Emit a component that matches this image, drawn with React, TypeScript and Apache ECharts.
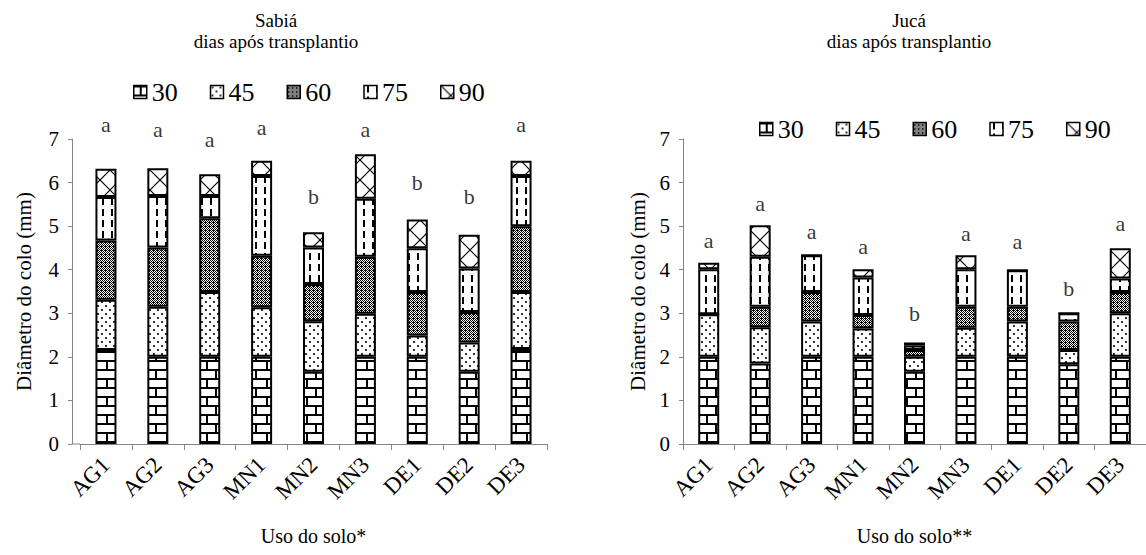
import React, { useEffect, useRef } from 'react';
import * as echarts from 'echarts';

const categories = ['AG1', 'AG2', 'AG3', 'MN1', 'MN2', 'MN3', 'DE1', 'DE2', 'DE3'];
const days = ['30', '45', '60', '75', '90'];

// Sabiá
const sabia30 = [2.16, 2.0, 2.0, 2.0, 1.66, 2.0, 2.0, 1.66, 2.18];
const sabia45 = [1.15, 1.15, 1.49, 1.14, 1.16, 0.99, 0.49, 0.67, 1.31];
const sabia60 = [1.36, 1.36, 1.69, 1.18, 0.85, 1.31, 1.0, 0.7, 1.51];
const sabia75 = [1.0, 1.18, 0.51, 1.83, 0.84, 1.33, 1.0, 1.0, 1.15];
const sabia90 = [0.65, 0.64, 0.5, 0.35, 0.35, 1.02, 0.66, 0.77, 0.35];
const sabiaLetters = ['a', 'a', 'a', 'a', 'b', 'a', 'b', 'b', 'a'];
const sabiaLetterY = [7.33, 7.22, 7.0, 7.27, 5.67, 7.22, 6.01, 5.67, 7.34];

// Jucá
const juca30 = [2.0, 1.85, 2.0, 2.0, 1.66, 2.0, 2.0, 1.83, 2.0];
const juca45 = [0.98, 0.83, 0.81, 0.65, 0.34, 0.67, 0.81, 0.33, 1.0];
const juca60 = [0.0, 0.47, 0.68, 0.31, 0.16, 0.48, 0.34, 0.65, 0.49];
const juca75 = [1.03, 1.15, 0.84, 0.86, 0.1, 0.86, 0.84, 0.19, 0.31];
const juca90 = [0.15, 0.72, 0.0, 0.19, 0.07, 0.32, 0.0, 0.0, 0.69];
const jucaLetters = ['a', 'a', 'a', 'a', 'b', 'a', 'a', 'b', 'a'];
const jucaLetterY = [4.68, 5.52, 4.87, 4.53, 3.0, 4.83, 4.64, 3.57, 5.05];

const FONT = 'Liberation Serif';

function makePattern(kind: string) {
  const c = document.createElement('canvas');
  let w = 8;
  let h = 8;
  if (kind === '30') { w = 20; h = 18; }
  if (kind === '45') { w = 8; h = 8; }
  if (kind === '60') { w = 4; h = 4; }
  if (kind === '75') { w = 9; h = 11; }
  if (kind === '90') { w = 20; h = 20; }
  c.width = w;
  c.height = h;
  const ctx = c.getContext('2d')!;
  ctx.fillStyle = '#fff';
  ctx.fillRect(0, 0, w, h);
  ctx.fillStyle = '#000';
  ctx.strokeStyle = '#000';
  if (kind === '30') {
    ctx.fillRect(0, 0, w, 2);
    ctx.fillRect(0, 9, w, 2);
    ctx.fillRect(6, 0, 2, 9);
    ctx.fillRect(15, 9, 2, 9);
  } else if (kind === '45') {
    ctx.fillStyle = '#333';
    ctx.fillRect(1, 1, 2, 2);
    ctx.fillRect(5, 5, 2, 2);
  } else if (kind === '60') {
    for (let y = 0; y < h; y++) {
      for (let x = 0; x < w; x++) {
        if ((x + y) % 2 === 0) ctx.fillRect(x, y, 1, 1);
      }
    }
    ctx.fillRect(1, 2, 1, 1);
  } else if (kind === '75') {
    ctx.fillRect(3, 0, 2, 7);
  } else if (kind === '90') {
    ctx.lineWidth = 1.2;
    ctx.beginPath();
    ctx.moveTo(0, 0);
    ctx.lineTo(w, h);
    ctx.moveTo(w, 0);
    ctx.lineTo(0, h);
    ctx.stroke();
  }
  return { image: c.toDataURL(), imageWidth: w, imageHeight: h, repeat: 'repeat' };
}

export default function App() {
  const ref = useRef<HTMLDivElement>(null);
  useEffect(() => {
    document.body.style.margin = '0';
    if (!ref.current) return;
    const chart = echarts.init(ref.current, null, { renderer: 'svg' });
    const patterns: Record<string, any> = {};
    days.forEach((d) => { patterns[d] = makePattern(d); });

    const sabiaData = [sabia30, sabia45, sabia60, sabia75, sabia90];
    const jucaData = [juca30, juca45, juca60, juca75, juca90];

    const barSeries = (data: number[][], idx: number, stack: string) =>
      days.map((d, i) => ({
        name: d,
        type: 'bar',
        stack,
        xAxisIndex: idx,
        yAxisIndex: idx,
        barWidth: 21,
        data: data[i],
        itemStyle: { color: patterns[d], borderColor: '#000', borderWidth: 2 },
      }));

    const letterSeries = (ys: number[], letters: string[], idx: number) => ({
      name: 'letters' + idx,
      type: 'scatter',
      xAxisIndex: idx,
      yAxisIndex: idx,
      data: ys,
      symbolSize: 1,
      clip: false,
      silent: true,
      itemStyle: { color: 'rgba(0,0,0,0)' },
      label: {
        show: true,
        position: 'inside',
        formatter: (p: any) => letters[p.dataIndex],
        fontSize: 22,
        fontFamily: FONT,
        color: '#000',
      },
    });

    const xAxisBase = (idx: number, name: string) => ({
      gridIndex: idx,
      type: 'category',
      data: categories,
      axisLine: { lineStyle: { color: '#868686', width: 1 } },
      axisTick: { show: true, length: 6, lineStyle: { color: '#868686' } },
      axisLabel: { rotate: 45, fontSize: 23, fontFamily: FONT, color: '#000', margin: 17 },
      name,
      nameLocation: 'middle',
      nameGap: 82,
      nameTextStyle: { fontSize: 20, fontFamily: FONT, color: '#000' },
    });

    const yAxisBase = (idx: number, offset: number, gap: number) => ({
      gridIndex: idx,
      type: 'value',
      min: 0,
      max: 7,
      interval: 1,
      offset,
      axisLine: { show: true, lineStyle: { color: '#868686', width: 1 } },
      axisTick: { show: true, length: 4, lineStyle: { color: '#868686' } },
      splitLine: { show: false },
      axisLabel: { fontSize: 21, fontFamily: FONT, color: '#000', margin: 13 },
      name: 'Diâmetro do colo (mm)',
      nameLocation: 'middle',
      nameGap: gap,
      nameTextStyle: { fontSize: 21, fontFamily: FONT, color: '#000' },
    });

    const legendBase = (left: number, top: number) => ({
      left,
      top,
      data: days,
      icon: 'rect',
      itemWidth: 13,
      itemHeight: 13,
      itemGap: 32,
      itemStyle: { borderColor: '#000', borderWidth: 1.5 },
      textStyle: { fontSize: 26, fontFamily: FONT, color: '#000' },
    });

    chart.setOption({
      animation: false,
      textStyle: { fontFamily: FONT },
      title: [
        {
          text: 'Sabiá\ndias após transplantio',
          left: 271,
          top: 5,
          textAlign: 'center',
          textStyle: { fontSize: 19, fontWeight: 'normal', fontFamily: FONT, color: '#000', lineHeight: 21 },
        },
        {
          text: 'Jucá\ndias após transplantio',
          left: 904,
          top: 5,
          textAlign: 'center',
          textStyle: { fontSize: 19, fontWeight: 'normal', fontFamily: FONT, color: '#000', lineHeight: 21 },
        },
      ],
      legend: [legendBase(128, 74), legendBase(754, 111)],
      grid: [
        { left: 80, right: 599, top: 139, bottom: 111 },
        { left: 683, right: -6, top: 139, bottom: 111 },
      ],
      xAxis: [xAxisBase(0, 'Uso do solo*'), xAxisBase(1, 'Uso do solo**')],
      yAxis: [yAxisBase(0, 8, 38), yAxisBase(1, 0, 35)],
      graphic: [
        {
          type: 'line',
          shape: { x1: 72, y1: 444, x2: 80, y2: 444 },
          style: { stroke: '#868686', lineWidth: 1 },
          silent: true,
        },
      ],
      series: [
        ...barSeries(sabiaData, 0, 'sabia'),
        ...barSeries(jucaData, 1, 'juca'),
        letterSeries(sabiaLetterY, sabiaLetters, 0),
        letterSeries(jucaLetterY, jucaLetters, 1),
      ],
    } as any);
    return () => chart.dispose();
  }, []);
  return <div ref={ref} style={{ width: 1146, height: 555 }} />;
}
